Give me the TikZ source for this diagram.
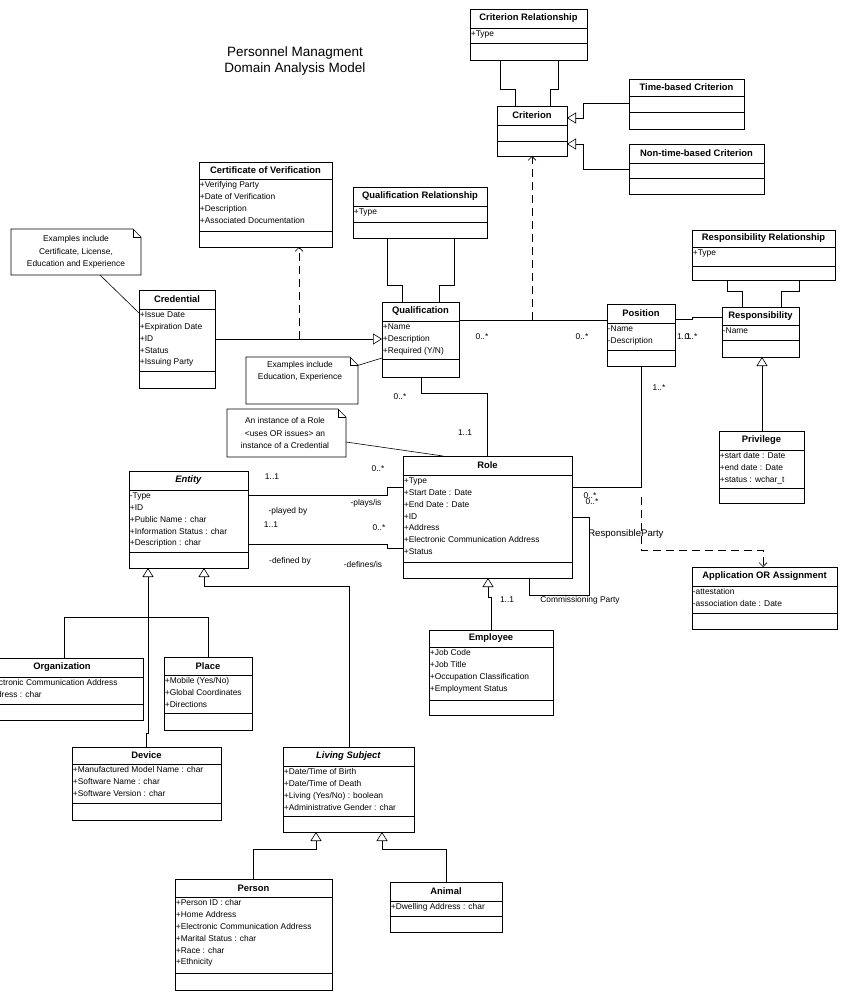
\documentclass[tikz,border=0pt]{standalone}
\usepackage{fontspec}
\setmainfont{Liberation Sans}
\usetikzlibrary{fit,calc,arrows.meta}
\newcommand\ttl{\fontsize{9.4}{10}\selectfont\bfseries}
\newcommand\ubox[9]{%
 \coordinate (#1-nw) at (#2,#3); \coordinate (#1-se) at (#4,#5);
 \node[fit=(#1-nw)(#1-se),inner sep=0pt,draw] (#1) {};
 \draw (#2,#6) -- (#4,#6) (#2,#7) -- (#4,#7);
 \node[font=\ttl,inner sep=0pt] (#1-t) at ($(#2,#3)!0.5!(#4,#6)$) {#8};
 \node[attr,anchor=north west] (#1-a) at ($(#2,#6)+(0,2)$) {#9};
}
\tikzset{
 attr/.style={align=left,inner sep=0.6pt,font=\fontsize{8.4}{11.8}\selectfont},
 lbl/.style={inner sep=0pt,font=\fontsize{8.4}{9}\selectfont},
 gen/.style={-{Triangle[open,length=9pt,width=11pt]}},
 dep/.style={dashed,dash pattern=on 8pt off 5pt,-{Straight Barb[length=4pt,width=8pt]}},
 notebox/.style={draw,fill=white},
 notetxt/.style={align=center,inner sep=0pt,font=\fontsize{8.4}{12.4}\selectfont}
}
\begin{document}
\begin{tikzpicture}[x=1pt,y=-1pt,line width=0.6pt]
\useasboundingbox (0,0) rectangle (867,1000);
\clip (0,0) rectangle (867,1000);
\fill[white] (0,0) rectangle (867,1000);

\node[align=center,font=\fontsize{13.5}{16}\selectfont] (title) at (295,61) {Personnel Managment\\Domain Analysis Model};

% boxes
\ubox{cr}{470}{9}{587}{60}{28}{43}{Criterion Relationship}{+Type}
\ubox{crit}{497}{106}{567}{156}{125}{141}{Criterion}{}
\ubox{tbc}{629}{79}{744}{129}{96}{112}{Time-based Criterion}{}
\ubox{ntbc}{629}{144}{764}{194}{163}{178}{Non-time-based Criterion}{}
\ubox{qr}{353}{187}{487}{238}{206}{222}{Qualification Relationship}{+Type}
\ubox{qual}{382}{302}{459}{377}{321}{359}{Qualification}{+Name\\+Description\\+Required (Y/N)}
\ubox{cov}{199}{162}{332}{247}{179}{231}{Certificate of Verification}{+Verifying Party\\+Date of Verification\\+Description\\+Associated Documentation}
\ubox{cred}{139}{290}{215}{388}{309}{371}{Credential}{+Issue Date\\+Expiration Date\\+ID\\+Status\\+Issuing Party}
\ubox{pos}{607}{304}{675}{366}{323}{350}{Position}{-Name\\-Description}
\ubox{rr}{692}{230}{835}{280}{247}{266}{Responsibility Relationship}{+Type}
\ubox{resp}{722}{307}{799}{357}{325}{340}{Responsibility}{-Name}
\ubox{priv}{719}{431}{804}{503}{450}{488}{Privilege}{+start date : Date\\+end date : Date\\+status : wchar\_t}
\ubox{ent}{129}{471}{248}{568}{490}{552}{\textit{Entity}}{-Type\\+ID\\+Public Name : char\\+Information Status : char\\+Description : char}
\ubox{role}{403}{456}{572}{578}{475}{562}{Role}{+Type\\+Start Date : Date\\+End Date : Date\\+ID\\+Address\\+Electronic Communication Address\\+Status}
\ubox{app}{692}{567}{837}{629}{586}{613}{Application OR Assignment}{-attestation\\-association date : Date}
\ubox{emp}{429}{630}{553}{715}{647}{700}{Employee}{+Job Code\\+Job Title\\+Occupation Classification\\+Employment Status}
\ubox{org}{-19}{658}{143}{720}{677}{704}{Organization}{+Electronic Communication Address\\+Address : char}
\ubox{place}{164}{657}{252}{730}{675}{713}{Place}{+Mobile (Yes/No)\\+Global Coordinates\\+Directions}
\ubox{dev}{72}{747}{221}{820}{764}{803}{Device}{+Manufactured Model Name : char\\+Software Name : char\\+Software Version : char}
\ubox{ls}{283}{747}{414}{832}{766}{816}{\textit{Living Subject}}{+Date/Time of Birth\\+Date/Time of Death\\+Living (Yes/No) : boolean\\+Administrative Gender : char}
\ubox{pers}{175}{879}{332}{990}{897}{973}{Person}{+Person ID : char\\+Home Address\\+Electronic Communication Address\\+Marital Status : char\\+Race : char\\+Ethnicity}
\ubox{anim}{390}{882}{502}{932}{901}{916}{Animal}{+Dwelling Address : char}

% criterion relationship links
\draw (500,60) -- (500,89) -- (515,89) -- (515,106);
\draw (558,60) -- (558,89) -- (550,89) -- (550,106);
\draw[gen] (629,103) -- (583,103) -- (583,118) -- (567,118);
\draw[gen] (629,169) -- (583,169) -- (583,144) -- (567,144);
% qualification relationship links
\draw (387,238) -- (387,285) -- (402,285) -- (402,302);
\draw (454,238) -- (454,285) -- (439,285) -- (439,302);
% responsibility relationship links
\draw (727,280) -- (727,291) -- (742,291) -- (742,307);
\draw (799,280) -- (799,291) -- (781,291) -- (781,307);
% qualification - position
\draw (459,320) -- (607,320);
\coordinate (qp) at (532,320);
\draw[dep] (qp) -- (532,156);
\node[lbl] (l1) at (482,337) {0..*};
\node[lbl] (l2) at (582,337) {0..*};
% credential - qualification
\draw[gen] (215,339) -- (382,339);
\coordinate (cq) at (299,339);
\draw[dep] (cq) -- (299,247);
% position - responsibility
\draw (675,319) -- (692,319) -- (692,317) -- (722,317);
\node[lbl] (l3) at (684,337) {1..1};
\node[lbl] (l3b) at (691,337) {0..*};
% privilege
\draw[gen] (762,431) -- (762,357);
% qualification - role
\draw (421,377) -- (421,393) -- (487,393) -- (487,456);
\node[lbl] (l4) at (400,397) {0..*};
\node[lbl] (l5) at (465,433) {1..1};
% position - role
\draw (641,366) -- (641,487) -- (572,487);
\node[lbl] (l6) at (659,388) {1..*};
\node[lbl] (l7) at (590,496) {0..*};
\node[lbl] (l7b) at (592,502) {0..*};
\coordinate (pr) at (641,497);
\draw[dep] (pr) -- (641,550) -- (763,550) -- (763,567);
\node[inner sep=0pt,anchor=west,font=\fontsize{9.6}{11}\selectfont] (rp) at (588,534) {ResponsibleParty};
% role self loop
\draw (572,517) -- (589,517) -- (589,595) -- (529,595) -- (529,578);
\node[lbl,anchor=west] (cp) at (540,600) {Commissioning Party};
% employee
\draw[gen] (491,630) -- (491,597) -- (488,597) -- (488,578);
\node[lbl] (l8) at (507,600) {1..1};
% entity - role
\draw (248,495) -- (387,495) -- (387,487) -- (403,487);
\draw (248,544) -- (387,544) -- (387,548) -- (403,548);
\node[lbl] (e1) at (272,477) {1..1};
\node[lbl] (e2) at (378,469) {0..*};
\node[lbl] (e3) at (366,503) {-plays/is};
\node[lbl] (e4) at (288,511) {-played by};
\node[lbl] (e5) at (271,525) {1..1};
\node[lbl] (e6) at (379,528) {0..*};
\node[lbl] (e7) at (290,561) {-defined by};
\node[lbl] (e8) at (363,564) {-defines/is};
% entity generalizations
\draw[gen] (146,747) -- (146,733) -- (148,733) -- (148,568);
\draw (64,658) -- (64,617) -- (208,617) -- (208,657);
\draw[gen] (349,747) -- (349,586) -- (204,586) -- (204,568);
% living subject generalizations
\draw[gen] (253,879) -- (253,849) -- (316,849) -- (316,832);
\draw[gen] (446,882) -- (446,849) -- (382,849) -- (382,832);

% notes
\draw[notebox] (11,229) -- (133,229) -- (141,237) -- (141,275) -- (11,275) -- cycle;
\draw (133,229) -- (133,237) -- (141,237);
\node[notetxt] (n1) at (76,252) {Examples include\\Certificate, License,\\Education and Experience};
\draw (100,275) -- (139,313);
\draw[notebox] (246,357) -- (350,357) -- (358,365) -- (358,404) -- (246,404) -- cycle;
\draw (350,357) -- (350,365) -- (358,365);
\node[notetxt,anchor=north] (n2) at (300,361) {Examples include\\Education, Experience};
\draw (356,366) -- (382,358);
\draw[notebox] (227,409) -- (338,409) -- (346,417) -- (346,457) -- (227,457) -- cycle;
\draw (338,409) -- (338,417) -- (346,417);
\node[notetxt] (n3) at (285,433) {An instance of a Role\\{<}uses OR issues{>} an\\instance of a Credential};
\draw (346,442) -- (443,456);
\end{tikzpicture}
\end{document}
